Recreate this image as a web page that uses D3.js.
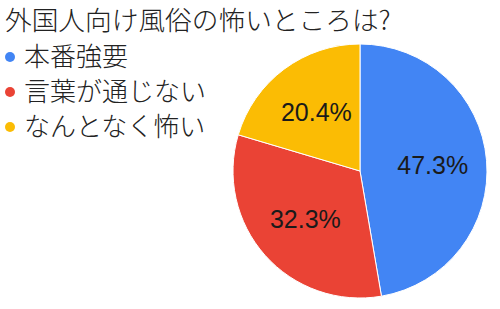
<!DOCTYPE html>
<html>
<head>
<meta charset="utf-8">
<script src="https://d3js.org/d3.v7.min.js"></script>
<style>
  html, body { margin: 0; padding: 0; background: #fff; }
</style>
</head>
<body>
<div id="chart"></div>
<script>
// data
const title = "外国人向け風俗の怖いところは?";
const categories = ["本番強要", "言葉が通じない", "なんとなく怖い"];
const values = [47.3, 32.3, 20.4];
const colors = ["#4285f4", "#ea4335", "#fbbc04"];

function drawChart() {
  const width = 500;
  const height = 309;
  const cx = 360, cy = 171, radius = 127;

  const svg = d3.select("#chart")
    .append("svg")
    .attr("width", width)
    .attr("height", height);

  // title
  svg.append("text")
    .attr("x", 5)
    .attr("y", 30)
    .attr("font-family", "'Noto Sans CJK JP', sans-serif")
    .attr("font-weight", 300)
    .attr("font-size", 26.7)
    .attr("fill", "#222")
    .text(title);

  // legend
  const legend = svg.selectAll(".legend")
    .data(categories)
    .join("g")
    .attr("class", "legend")
    .attr("transform", (d, i) => `translate(10,${57 + i * 35})`);

  legend.append("circle")
    .attr("r", 5)
    .attr("fill", (d, i) => colors[i]);

  legend.append("text")
    .attr("x", 14)
    .attr("dy", "0.35em")
    .attr("font-family", "'Noto Sans CJK JP', sans-serif")
    .attr("font-weight", 300)
    .attr("font-size", 26)
    .attr("fill", "#222")
    .text(d => d);

  // pie
  const pie = d3.pie().sort(null).value(d => d);
  const arcs = pie(values);
  const arc = d3.arc().innerRadius(0).outerRadius(radius);
  const labelArc = d3.arc().innerRadius(73).outerRadius(73);

  const g = svg.append("g").attr("transform", `translate(${cx},${cy})`);

  g.selectAll("path")
    .data(arcs)
    .join("path")
    .attr("d", arc)
    .attr("fill", (d, i) => colors[i])
    .attr("stroke", "#fff")
    .attr("stroke-width", 1);

  g.selectAll(".lbl")
    .data(arcs)
    .join("text")
    .attr("class", "lbl")
    .attr("transform", d => `translate(${labelArc.centroid(d)})`)
    .attr("text-anchor", "middle")
    .attr("dy", "0.36em")
    .attr("font-family", "'Liberation Sans', Arial, sans-serif")
    .attr("font-size", 25)
    .attr("fill", "#1a1a1a")
    .text(d => d.value.toFixed(1) + "%");
}

document.addEventListener("DOMContentLoaded", drawChart);
</script>
</body>
</html>
